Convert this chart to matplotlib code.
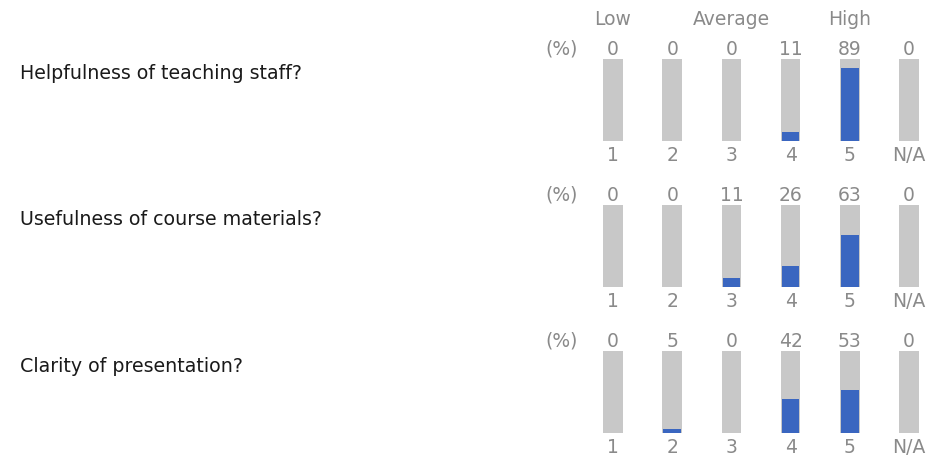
import numpy as np
import matplotlib.pyplot as plt

# survey data
questions = ['Helpfulness of teaching staff?',
             'Usefulness of course materials?',
             'Clarity of presentation?']
scale_labels = ['1', '2', '3', '4', '5', 'N/A']
header_labels = ['Low', 'Average', 'High']
header_pos = [0, 2, 4]
pct_staff = [0, 0, 0, 11, 89, 0]
pct_materials = [0, 0, 11, 26, 63, 0]
pct_clarity = [0, 5, 0, 42, 53, 0]
rows = [pct_staff, pct_materials, pct_clarity]

W, H = 932, 456
gray = '#c8c8c8'
blue = '#3a66c0'
num_col = '#8a8a8a'
txt_col = '#1a1a1a'

fig = plt.figure(figsize=(W / 100, H / 100), dpi=100)
plt.rcParams['font.family'] = 'DejaVu Sans'

# bar area top/bottom in pixels for each row
bar_tops = [60, 206, 352]
bar_h = 82
x_left, x_right = 595, 927
xlim = (-0.304, 5.304)
fs = 13.5

for i, (q, vals) in enumerate(zip(questions, rows)):
    top = bar_tops[i]
    ax = fig.add_axes([x_left / W, 1 - (top + bar_h) / H,
                       (x_right - x_left) / W, bar_h / H])
    x = np.arange(len(vals))
    ax.bar(x, [100] * len(vals), width=0.33, color=gray)
    ax.bar(x, vals, width=0.30, color=blue)
    ax.set_xlim(*xlim)
    ax.set_ylim(0, 100)
    for s in ax.spines.values():
        s.set_visible(False)
    ax.set_yticks([])
    ax.set_xticks(x)
    ax.set_xticklabels(scale_labels, color=num_col, fontsize=fs)
    ax.tick_params(axis='x', length=0, pad=3)
    for xi, v in zip(x, vals):
        ax.annotate(str(v), (xi, 100), xytext=(0, 1), textcoords='offset points',
                    ha='center', va='bottom', color=num_col, fontsize=fs)
    ax.annotate('(%)', (-0.304, 100), xytext=(-24, 1), textcoords='offset points',
                ha='center', va='bottom', color=num_col, fontsize=fs,
                annotation_clip=False)
    if i == 0:
        for lab, p in zip(header_labels, header_pos):
            ax.annotate(lab, (p, 100), xytext=(0, 22), textcoords='offset points',
                        ha='center', va='bottom', color=num_col, fontsize=fs)
    fig.text(20 / W, 1 - (top + 14) / H, q, ha='left', va='center',
             color=txt_col, fontsize=13.7)

fig.savefig('out.png', dpi=100, facecolor='white')
